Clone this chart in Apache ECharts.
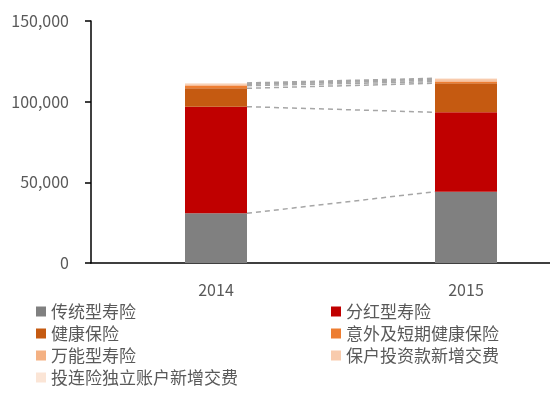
<!DOCTYPE html>
<html lang="zh">

<head>
    <meta charset="UTF-8">
    <title>保费结构</title>
    <script src="https://cdn.jsdelivr.net/npm/echarts@6/dist/echarts.min.js"></script>
    <style>
        body { margin: 0; background: #fff; }
    </style>
</head>

<body>
    <div id="main" style="width: 550px;height:395px;"></div>

    <script>
        // 数据
        const years = ['2014', '2015'];
        const names = ['传统型寿险', '分红型寿险', '健康保险', '意外及短期健康保险', '万能型寿险', '保户投资款新增交费', '投连险独立账户新增交费'];
        const traditional = [30800, 44200];
        const participating = [66100, 49200];
        const health = [11400, 18000];
        const accident = [1600, 1000];
        const universal = [800, 900];
        const policyholder = [500, 700];
        const unitLinked = [400, 500];
        const yTicks = [0, 50000, 100000, 150000];

        const colors = ['#808080', '#C00000', '#C55A11', '#ED7D31', '#F4B183', '#F8CBAD', '#FBE5D6'];
        const seriesData = [traditional, participating, health, accident, universal, policyholder, unitLinked];

        // 各层累计高度, 用来画虚线
        const cum = [];
        let s0 = 0, s1 = 0;
        seriesData.forEach(d => {
            s0 += d[0]; s1 += d[1];
            cum.push([s0, s1]);
        });

        const barW = 62;
        const font = '"Noto Sans CJK SC", "Open Sans", sans-serif';

        const myChart = echarts.init(document.getElementById('main'));

        const series = seriesData.map((d, i) => ({
            name: names[i],
            type: 'bar',
            stack: 'total',
            barWidth: barW,
            itemStyle: { color: colors[i] },
            data: d
        }));

        series.push({
            type: 'custom',
            silent: true,
            z: 5,
            data: cum,
            renderItem: (params, api) => {
                const a = api.coord([0, api.value(0)]);
                const b = api.coord([1, api.value(1)]);
                return {
                    type: 'line',
                    shape: { x1: a[0] + barW / 2, y1: a[1], x2: b[0] - barW / 2, y2: b[1] },
                    style: { stroke: '#A6A6A6', lineWidth: 1.5, lineDash: [5, 4] }
                };
            }
        });

        const legendText = { fontSize: 17, color: '#595959', fontFamily: font };

        let option = {
            animation: false,
            grid: { left: 91, top: 21, bottom: 132, width: 500, outerBoundsMode: 'none', containLabel: false },
            legend: [
                {
                    orient: 'vertical', left: 31, top: 298,
                    itemWidth: 10, itemHeight: 10, itemGap: 5,
                    icon: 'rect', textStyle: legendText,
                    data: [names[0], names[2], names[4], names[6]]
                },
                {
                    orient: 'vertical', left: 326, top: 298,
                    itemWidth: 10, itemHeight: 10, itemGap: 5,
                    icon: 'rect', textStyle: legendText,
                    data: [names[1], names[3], names[5]]
                }
            ],
            xAxis: {
                type: 'category',
                data: years,
                axisLine: { lineStyle: { color: '#000', width: 1.5 } },
                axisTick: { show: false },
                axisLabel: { fontSize: 16, color: '#595959', margin: 19, fontFamily: font }
            },
            yAxis: {
                type: 'value',
                min: yTicks[0],
                max: yTicks[yTicks.length - 1],
                interval: 50000,
                splitLine: { show: false },
                axisLine: { show: true, lineStyle: { color: '#000', width: 1.5 } },
                axisTick: { show: true, length: 6, lineStyle: { color: '#000', width: 1.5 } },
                axisLabel: {
                    fontSize: 16, color: '#595959', margin: 22, fontFamily: font,
                    formatter: v => v.toLocaleString('en-US')
                }
            },
            series: series
        };

        myChart.setOption(option);
    </script>
</body>

</html>
